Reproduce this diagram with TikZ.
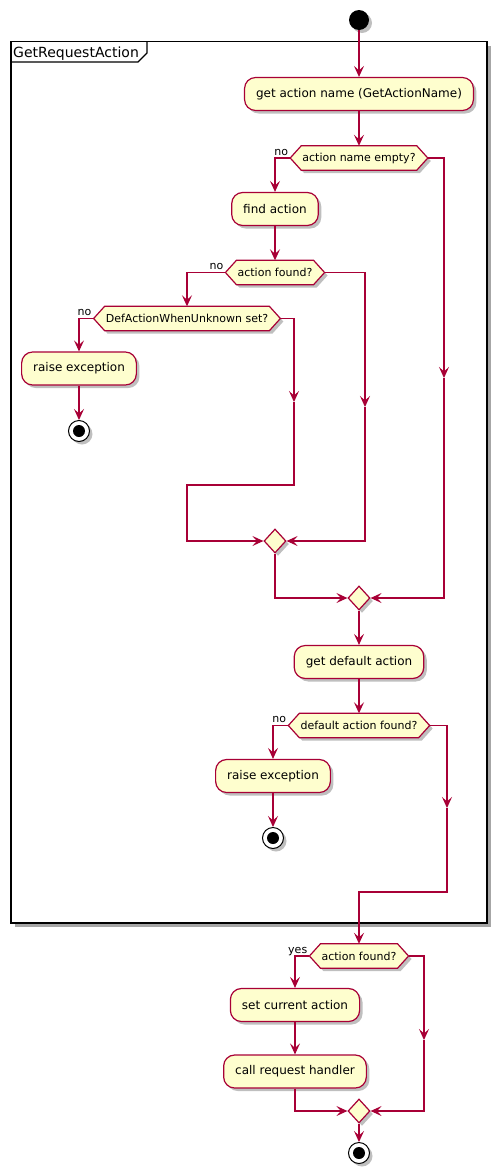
\documentclass[tikz,border=0pt]{standalone}
\usepackage{fontspec}
\setmainfont{DejaVu Sans}
\usetikzlibrary{arrows.meta,shapes.geometric,shadows,calc}
\definecolor{lc}{HTML}{A80036}
\definecolor{bf}{HTML}{FEFECE}
\pgfdeclarelayer{framelayer}
\pgfdeclarelayer{bg}
\pgfsetlayers{framelayer,bg,main}
\tikzset{
  shad/.style={drop shadow={shadow xshift=3pt,shadow yshift=-3pt,fill=black,opacity=.25}},
  act/.style={rectangle, rounded corners=11pt, draw=lc, fill=bf, line width=1.2pt,
    font=\fontsize{12}{14}\selectfont, inner xsep=11.5pt, inner ysep=0pt, minimum height=33pt, shad},
  hexn/.style={rectangle, inner xsep=12pt, inner ysep=0pt, minimum height=24pt, font=\fontsize{11}{13}\selectfont},
  merge/.style={diamond, draw=lc, fill=bf, line width=1.2pt, inner sep=0pt,
    minimum width=22pt, minimum height=24pt, shad},
  startn/.style={circle, fill=black, minimum size=20pt, inner sep=0pt, shad},
  stopn/.style={circle, draw=black, fill=white, line width=1pt, minimum size=21pt, inner sep=0pt, shad,
    path picture={\fill[black] (path picture bounding box.center) circle (6pt);}},
  flow/.style={draw=lc, line width=1.2pt, -{Stealth[length=11pt,width=10pt,inset=4.5pt]}},
  lbl/.style={font=\fontsize{11}{13}\selectfont, inner sep=1pt, anchor=base east},
}
\newcommand\hexdraw[1]{%
  \begin{pgfonlayer}{bg}
    \fill[black,opacity=.25]
      ([xshift=3pt,yshift=-3pt]#1.west) -- ([xshift=14pt,yshift=-3pt]#1.north west) --
      ([xshift=-8pt,yshift=-3pt]#1.north east) -- ([xshift=3pt,yshift=-3pt]#1.east) --
      ([xshift=-8pt,yshift=-3pt]#1.south east) -- ([xshift=14pt,yshift=-3pt]#1.south west) -- cycle;
    \filldraw[draw=lc,fill=bf,line width=1.2pt]
      (#1.west) -- ([xshift=11pt]#1.north west) -- ([xshift=-11pt]#1.north east) --
      (#1.east) -- ([xshift=-11pt]#1.south east) -- ([xshift=11pt]#1.south west) -- cycle;
  \end{pgfonlayer}}
\begin{document}
\begin{tikzpicture}[x=1pt,y=-1pt]
\useasboundingbox (0,0) rectangle (497,1173);

% frame
\begin{pgfonlayer}{framelayer}
  \fill[black,opacity=.35] (15,45.5) rectangle (491,927);
  \draw[black,line width=1.5pt,fill=white] (11,41.5) rectangle (487,923);
  \draw[black,line width=1.2pt] (11,62) -- (138,62) -- (147,53) -- (147,41.5);
\end{pgfonlayer}
\node[font=\fontsize{14}{16}\selectfont, anchor=base west, inner sep=0pt] (title) at (13,57) {GetRequestAction};

% nodes
\node[startn] (start) at (359,20) {};
\node[act] (n1) at (359,94) {get action name (GetActionName)};
\node[hexn] (h1) at (359,158) {action name empty?}; \hexdraw{h1}
\node[act] (n2) at (275,209) {find action};
\node[hexn] (h2) at (275,272.5) {action found?}; \hexdraw{h2}
\node[hexn] (h3) at (187,318.5) {DefActionWhenUnknown set?}; \hexdraw{h3}
\node[act] (n3) at (79,368.5) {raise exception};
\node[stopn] (s1) at (79,431) {};
\node[merge] (m1) at (275,541) {};
\node[merge] (m2) at (359,598) {};
\node[act] (n4) at (359,662) {get default action};
\node[hexn] (h4) at (359,725.5) {default action found?}; \hexdraw{h4}
\node[act] (n5) at (273,776) {raise exception};
\node[stopn] (s2) at (273,838) {};
\node[hexn] (h5) at (359,956) {action found?}; \hexdraw{h5}
\node[act] (n6) at (295,1005) {set current action};
\node[act] (n7) at (295,1071.5) {call request handler};
\node[merge] (m3) at (359,1111) {};
\node[stopn] (s3) at (359,1153) {};

% labels
\node[lbl] (l1) at ([xshift=-1pt,yshift=3pt]h1.west) {no};
\node[lbl] (l2) at ([xshift=-1pt,yshift=3pt]h2.west) {no};
\node[lbl] (l3) at ([xshift=-1pt,yshift=3pt]h3.west) {no};
\node[lbl] (l4) at ([xshift=-1pt,yshift=3pt]h4.west) {no};
\node[lbl] (l5) at ([xshift=-1pt,yshift=3pt]h5.west) {yes};

% coordinates
\coordinate (a1) at (444,378);
\coordinate (a2) at (365,407);
\coordinate (a3) at (294,402);
\coordinate (b3) at (187,485);
\coordinate (a4) at (447,808);
\coordinate (b4) at (359,892);
\coordinate (a5) at (424,1040);

% connectors
\draw[flow] (start) -- (n1);
\draw[flow] (n1) -- (h1);
\draw[flow] (h1.west) -| (n2.north);
\draw[flow] (h1.east) -| (a1);
\draw[flow] (a1) |- (m2.east);
\draw[flow] (n2) -- (h2);
\draw[flow] (h2.west) -| (h3.north);
\draw[flow] (h2.east) -| (a2);
\draw[flow] (a2) |- (m1.east);
\draw[flow] (h3.west) -| (n3.north);
\draw[flow] (n3) -- (s1);
\draw[flow] (h3.east) -| (a3);
\draw[flow] (a3) |- (b3) |- (m1.west);
\draw[flow] (m1.south) |- (m2.west);
\draw[flow] (m2) -- (n4);
\draw[flow] (n4) -- (h4);
\draw[flow] (h4.west) -| (n5.north);
\draw[flow] (n5) -- (s2);
\draw[flow] (h4.east) -| (a4);
\draw[flow] (a4) |- (b4) -- (h5.north);
\draw[flow] (h5.west) -| (n6.north);
\draw[flow] (n6) -- (n7);
\draw[flow] (n7.south) |- (m3.west);
\draw[flow] (h5.east) -| (a5);
\draw[flow] (a5) |- (m3.east);
\draw[flow] (m3) -- (s3);
\end{tikzpicture}
\end{document}
